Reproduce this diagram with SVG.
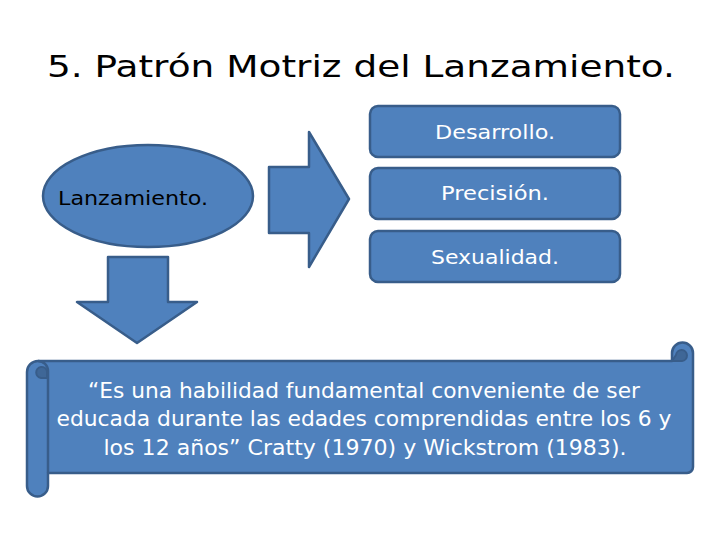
<svg xmlns="http://www.w3.org/2000/svg" width="720" height="540" viewBox="0 0 720 540">
<style>
.shape{fill:#4f81bd;stroke:#385d8a;stroke-width:2.5;stroke-linejoin:round}
.curl{fill:#3f6797;stroke:#385d8a;stroke-width:2}
.wt{fill:#ffffff;font-family:"DejaVu Sans","Liberation Sans",sans-serif;text-anchor:middle}
.bk{fill:#000000;font-family:"DejaVu Sans","Liberation Sans",sans-serif;text-anchor:middle}
</style>
<rect width="720" height="540" fill="#ffffff"/>
<text class="bk" x="361" y="77" font-size="31" textLength="628" lengthAdjust="spacingAndGlyphs">5. Patrón Motriz del Lanzamiento.</text>
<g id="connectors">
<path class="shape" d="M269,167 L309,167 L309,132 L349,199 L309,267 L309,233 L269,233 Z"/>
<path class="shape" d="M108,257 L168,257 L168,302 L197,302 L137,343 L77,302 L108,302 Z"/>
</g>
<g id="lanzamiento">
<ellipse class="shape" cx="148" cy="196" rx="105" ry="51"/>
<text class="bk" x="133" y="205" font-size="20" textLength="150" lengthAdjust="spacingAndGlyphs">Lanzamiento.</text>
</g>
<g id="desarrollo">
<rect class="shape" x="370" y="106" width="250" height="51" rx="8"/>
<text class="wt" x="495" y="139" font-size="20" textLength="120" lengthAdjust="spacingAndGlyphs">Desarrollo.</text>
</g>
<g id="precision">
<rect class="shape" x="370" y="168" width="250" height="51" rx="8"/>
<text class="wt" x="495" y="200" font-size="20" textLength="108" lengthAdjust="spacingAndGlyphs">Precisión.</text>
</g>
<g id="sexualidad">
<rect class="shape" x="370" y="231" width="250" height="51" rx="8"/>
<text class="wt" x="495" y="264" font-size="20" textLength="128" lengthAdjust="spacingAndGlyphs">Sexualidad.</text>
</g>
<g id="scroll">
<path class="shape" d="M38,361 L672,361 L672,353 A10.5,10.5 0 0 1 693,353 L693,467 A6,6 0 0 1 687,473 L48,473 L48,486 A10.5,10.5 0 0 1 27,486 L27,372 A11,11 0 0 1 38,361 Z"/>
<path d="M38,361 A10,10 0 0 1 48,371 L48,473" fill="none" stroke="#385d8a" stroke-width="2.5"/>
<path class="curl" d="M41,378 A5.5,5.5 0 1 1 47,371 L47,378 Z"/>
<path class="curl" d="M672,361 L682,361 A5.5,5.5 0 1 0 676,355 Z"/>
<text class="wt" x="364" y="398" font-size="21" textLength="552" lengthAdjust="spacingAndGlyphs">“Es una habilidad fundamental conveniente de ser</text>
<text class="wt" x="364" y="426" font-size="21" textLength="615" lengthAdjust="spacingAndGlyphs">educada durante las edades comprendidas entre los 6 y</text>
<text class="wt" x="365" y="455" font-size="21" textLength="523" lengthAdjust="spacingAndGlyphs">los 12 años” Cratty (1970) y Wickstrom (1983).</text>
</g>
</svg>
